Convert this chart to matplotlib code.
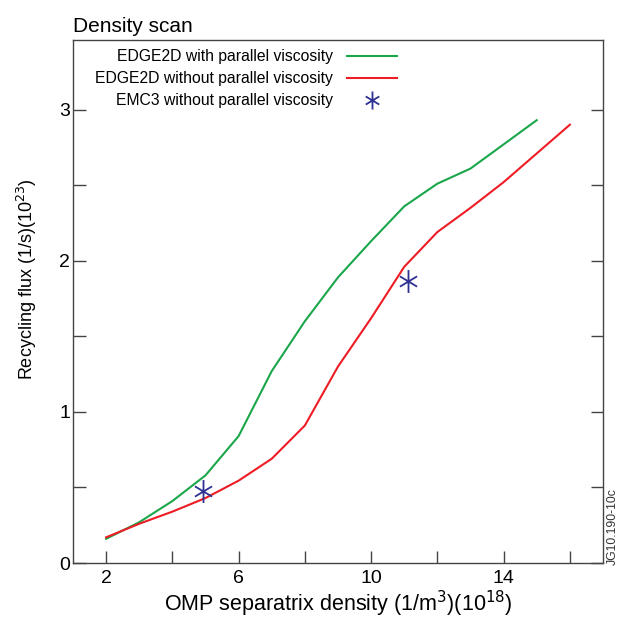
import matplotlib
matplotlib.use("Agg")
import matplotlib.pyplot as plt
from matplotlib.path import Path

plt.rcParams["font.family"] = ["Liberation Sans", "DejaVu Sans"]

# density (1e18 m^-3) and recycling flux (1e23 1/s)
dens_visc = [2, 3, 4, 5, 6, 7, 8, 9, 10, 11, 12, 13, 14, 15]
flux_visc = [0.16, 0.27, 0.41, 0.58, 0.84, 1.27, 1.60, 1.89, 2.13, 2.36, 2.51, 2.61, 2.77, 2.93]

dens_novisc = [2, 3, 4, 5, 6, 7, 8, 9, 10, 11, 12, 13, 14, 15, 16]
flux_novisc = [0.17, 0.26, 0.34, 0.43, 0.545, 0.69, 0.91, 1.30, 1.62, 1.96, 2.19, 2.35, 2.52, 2.71, 2.90]

dens_emc3 = [4.93, 11.1]
flux_emc3 = [0.475, 1.865]

labels = ["EDGE2D with parallel viscosity",
          "EDGE2D without parallel viscosity",
          "EMC3 without parallel viscosity"]

green = "#1aa64a"
red = "#ee1c24"
blue = "#2e3192"

# asterisk with a long vertical stroke
star = Path([(0, -1), (0, 1), (-0.75, -0.45), (0.75, 0.45), (-0.75, 0.45), (0.75, -0.45)],
            [Path.MOVETO, Path.LINETO, Path.MOVETO, Path.LINETO, Path.MOVETO, Path.LINETO])

fig = plt.figure(figsize=(6.22, 6.17), dpi=100)
ax = fig.add_axes([0.1174, 0.0875, 0.852, 0.8475])

l1, = ax.plot(dens_visc, flux_visc, color=green, lw=1.5)
l2, = ax.plot(dens_novisc, flux_novisc, color=red, lw=1.5)
s1, = ax.plot(dens_emc3, flux_emc3, ls="none", marker=star, markersize=16.5,
              mfc="none", mec=blue, mew=1.3)

ax.set_xlim(1, 17)
ax.set_ylim(0, 3.46)
ax.set_xticks([2, 4, 6, 8, 10, 12, 14, 16])
ax.set_xticklabels(["2", "", "6", "", "10", "", "14", ""])
ax.set_yticks([0, 0.5, 1, 1.5, 2, 2.5, 3])
ax.set_yticklabels(["0", "", "1", "", "2", "", "3"])
ax.tick_params(direction="in", length=9, width=1, color="#444444",
               labelsize=14, right=True, top=False)
ax.tick_params(axis="y", pad=2)
ax.tick_params(axis="x", pad=5)
for sp in ax.spines.values():
    sp.set_color("#444444")
    sp.set_linewidth(1)

ax.set_xlabel("OMP separatrix density (1/m$^3$)(10$^{18}$)", fontsize=15.5, labelpad=1)
ax.set_ylabel("Recycling flux (1/s)(10$^{23}$)", fontsize=13)
ax.yaxis.set_label_coords(-0.065, 0.543)
ax.set_title("Density scan", fontsize=15, loc="left", pad=6)

leg = ax.legend([l1, l2, s1], labels, markerfirst=False, frameon=False,
                loc="upper right", bbox_to_anchor=(0.623, 0.995), fontsize=11.3,
                handlelength=3.2, handletextpad=0.9, labelspacing=0.45,
                borderaxespad=0)
for h in leg.legend_handles:
    if h.get_marker() not in (None, "None", ""):
        h.set_markersize(13)

fig.text(0.985, 0.085, "JG10.190-10c", rotation=90, fontsize=8.8,
         ha="center", va="bottom", color="#333333")

fig.savefig("out.png", dpi=100)
